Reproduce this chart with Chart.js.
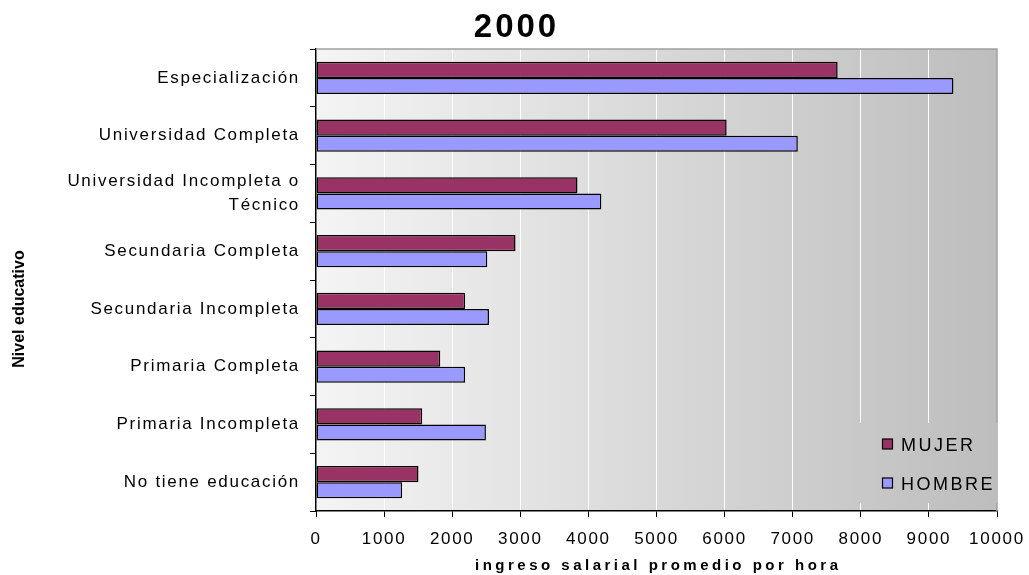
<!DOCTYPE html>
<html>
<head>
<meta charset="utf-8">
<script src="https://cdn.jsdelivr.net/npm/chart.js@4"></script>
<style>
  body { margin: 0; background: #fff; }
</style>
</head>
<body>
<canvas id="grafico" width="1029" height="575"></canvas>
<script>
const niveles = [
    'Especialización',
    'Universidad Completa',
    ['Universidad Incompleta o', 'Técnico'],
    'Secundaria Completa',
    'Secundaria Incompleta',
    'Primaria Completa',
    'Primaria Incompleta',
    'No tiene educación'
];
const mujer = [7660, 6030, 3840, 2930, 2190, 1825, 1560, 1505];
const hombre = [9360, 7075, 4190, 2515, 2540, 2190, 2495, 1265];
const titulo = '2000';
const tituloX = 'ingreso salarial promedio por hora';
const tituloY = 'Nivel educativo';

let fondo_;

// texto con espaciado entre letras
function texto(ctx, str, x, y, font, spacing, align) {
    ctx.save();
    ctx.font = font;
    ctx.letterSpacing = spacing + 'px';
    ctx.fillStyle = '#000';
    ctx.textBaseline = 'alphabetic';
    ctx.textAlign = 'left';
    const w = ctx.measureText(str).width - spacing;
    let x0 = x;
    if (align === 'center') x0 = x - w / 2;
    if (align === 'right') x0 = x - w;
    ctx.fillText(str, x0, y);
    ctx.restore();
}

const decorado = {
    id: 'decorado',
    beforeDraw(chart) {
        const ctx = chart.ctx;
        const a = chart.chartArea;
        fondo_ = ctx.createLinearGradient(a.left, 0, a.right, 0);
        fondo_.addColorStop(0, '#f4f4f4');
        fondo_.addColorStop(1, '#bdbdbd');
        ctx.save();
        ctx.fillStyle = fondo_;
        ctx.fillRect(a.left, a.top, a.right - a.left, a.bottom - a.top);
        ctx.restore();
        // etiquetas de los ejes algo espaciadas
        ctx.letterSpacing = '1.7px';
    },
    afterDraw(chart) {
        const ctx = chart.ctx;
        const a = chart.chartArea;
        ctx.letterSpacing = '0px';

        // borde superior y derecho
        ctx.save();
        ctx.strokeStyle = '#a0a0a0';
        ctx.lineWidth = 1.5;
        ctx.beginPath();
        ctx.moveTo(a.left, a.top);
        ctx.lineTo(a.right, a.top);
        ctx.lineTo(a.right, a.bottom);
        ctx.stroke();
        ctx.restore();

        // leyenda
        ctx.save();
        ctx.fillStyle = fondo_;
        ctx.fillRect(852, 423, a.right - 852 + 1, 80);
        const sets = chart.data.datasets;
        const ys = [444, 483];
        sets.forEach((ds, i) => {
            ctx.fillStyle = ds.backgroundColor;
            ctx.fillRect(882.5, ys[i] - 5, 10, 10);
            ctx.strokeStyle = '#000';
            ctx.lineWidth = 1.2;
            ctx.strokeRect(882.5, ys[i] - 5, 10, 10);
            texto(ctx, ds.label, 901, ys[i] + 6.5, '18px "Liberation Sans"', 2.5, 'left');
        });
        ctx.restore();

        // titulos
        texto(ctx, titulo, 515, 36.5, 'bold 33px "Liberation Sans"', 3, 'center');
        texto(ctx, tituloX, (a.left + a.right) / 2, 570, 'bold 15px "Liberation Sans"', 3.5, 'center');
        ctx.save();
        ctx.translate(24, 309);
        ctx.rotate(-Math.PI / 2);
        texto(ctx, tituloY, 0, 0, 'bold 16px "Liberation Sans"', 0, 'center');
        ctx.restore();
    }
};

Chart.defaults.font.family = '"Liberation Sans", Arial, sans-serif';
Chart.defaults.color = '#000';

new Chart(document.getElementById('grafico'), {
    type: 'bar',
    data: {
        labels: niveles,
        datasets: [
            {
                label: 'MUJER',
                data: mujer,
                backgroundColor: '#993366',
                borderColor: '#000',
                borderWidth: 1.5,
                borderSkipped: false
            },
            {
                label: 'HOMBRE',
                data: hombre,
                backgroundColor: '#9999ff',
                borderColor: '#000',
                borderWidth: 1.5,
                borderSkipped: false
            }
        ]
    },
    options: {
        indexAxis: 'y',
        responsive: false,
        animation: false,
        barPercentage: 1,
        categoryPercentage: 0.56,
        layout: {
            padding: { top: 49, right: 32, left: 0, bottom: 0 }
        },
        plugins: {
            legend: { display: false },
            title: { display: false },
            tooltip: { enabled: false }
        },
        scales: {
            x: {
                min: 0,
                max: 10000,
                afterFit: s => {
                    s.height = 64;
                    s.paddingLeft = 0;
                    s.paddingRight = 0;
                },
                ticks: {
                    stepSize: 1000,
                    autoSkip: false,
                    maxRotation: 0,
                    padding: 12,
                    font: { size: 17, lineHeight: 1.2 },
                    callback: v => String(v)
                },
                grid: {
                    color: '#ffffff',
                    tickColor: '#000',
                    tickLength: 6,
                    lineWidth: 1
                },
                border: { color: '#000', width: 1.5 }
            },
            y: {
                afterFit: s => {
                    s.width = 316;
                    s.paddingTop = 0;
                    s.paddingBottom = 0;
                },
                ticks: {
                    padding: 10,
                    font: { size: 17, lineHeight: 1.45 }
                },
                grid: {
                    drawOnChartArea: false,
                    offset: true,
                    color: '#000',
                    tickLength: 6
                },
                border: { color: '#000', width: 1.5 }
            }
        }
    },
    plugins: [decorado]
});
</script>
</body>
</html>
